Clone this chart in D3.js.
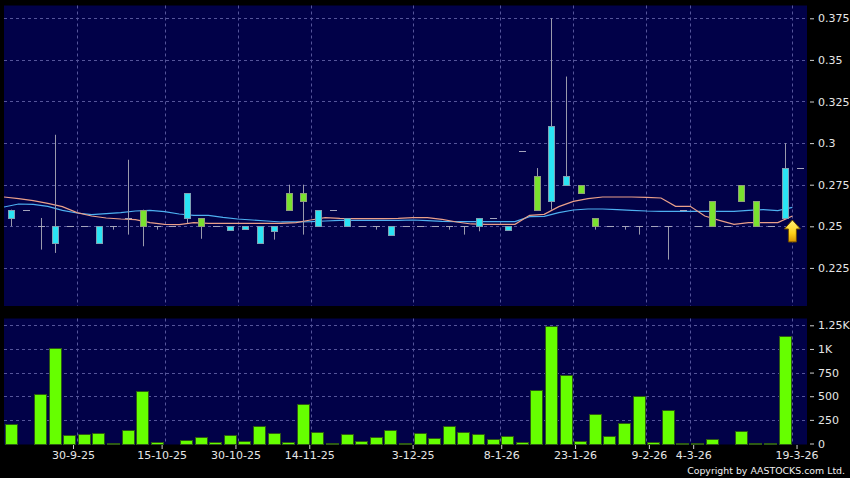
<!DOCTYPE html>
<html><head><meta charset="utf-8">
<script src="https://cdn.jsdelivr.net/npm/d3@7"></script>
<style>
html,body{margin:0;padding:0;background:#000;}
svg{display:block;}
text{font-family:"DejaVu Sans",Verdana,sans-serif;}
</style></head>
<body>
<svg id="c" width="850" height="478"></svg>
<script>
// ---- data (55 slots) ----
const opens  = [0.26,0.26,0.25,0.25,0.25,0.25,0.25,0.25,0.255,0.25, 0.25,0.25,0.27,0.25,0.25,0.25,0.25,0.25,0.25,0.26, 0.265,0.26,0.26,0.255,0.25,0.25,0.25,0.25,0.25,0.25, 0.25,0.25,0.255,0.255,0.25,0.295,0.26,0.31,0.28,0.27, 0.25,0.25,0.25,0.25,0.25,0.25,0.26,0.25,0.25,0.25, 0.265,0.25,0.25,0.285,0.285];
const highs  = [0.26,0.26,0.255,0.305,0.25,0.25,0.25,0.25,0.29,0.26, 0.25,0.25,0.27,0.255,0.25,0.25,0.25,0.25,0.25,0.275, 0.275,0.26,0.26,0.255,0.25,0.25,0.25,0.25,0.25,0.25, 0.25,0.25,0.255,0.255,0.25,0.295,0.285,0.375,0.34,0.275, 0.255,0.25,0.25,0.25,0.25,0.25,0.26,0.25,0.265,0.25, 0.275,0.265,0.25,0.30,0.285];
const lows   = [0.25,0.26,0.236,0.234,0.25,0.25,0.24,0.248,0.245,0.238, 0.248,0.25,0.252,0.2425,0.25,0.248,0.2485,0.24,0.242,0.26, 0.245,0.25,0.26,0.25,0.25,0.248,0.245,0.25,0.25,0.25, 0.248,0.245,0.247,0.255,0.248,0.295,0.26,0.26,0.275,0.27, 0.248,0.25,0.248,0.245,0.25,0.23,0.26,0.25,0.25,0.25, 0.265,0.25,0.25,0.255,0.285];
const closes = [0.255,0.26,0.25,0.24,0.25,0.25,0.24,0.25,0.255,0.26, 0.25,0.25,0.255,0.255,0.25,0.248,0.2485,0.24,0.247,0.27, 0.27,0.25,0.26,0.25,0.25,0.25,0.245,0.25,0.25,0.25, 0.25,0.25,0.25,0.255,0.248,0.295,0.28,0.265,0.275,0.275, 0.255,0.25,0.25,0.25,0.25,0.25,0.26,0.25,0.265,0.25, 0.275,0.265,0.25,0.255,0.285];
const volumes = [211,0,525,1015,94,97,115,10,139,555, 15,0,38,66,20,87,31,183,107,12, 423,125,3,97,27,66,146,5,107,55, 187,125,104,45,76,17,566,1240,722,24, 308,76,215,503,17,354,2,8,52,0, 128,5,10,1135,0];
// moving averages at slot boundaries (points k=0..54)
const maOrange = [0.2676,0.2666,0.2654,0.2638,0.2618,0.2582,0.2562,0.255,0.2544,0.254, 0.2522,0.2512,0.251,0.2522,0.2518,0.2518,0.2518,0.2518,0.2518,0.2518, 0.2522,0.2538,0.2552,0.2548,0.2546,0.2546,0.2546,0.2548,0.2552,0.2552, 0.2542,0.2526,0.2514,0.2512,0.2512,0.2512,0.2566,0.2572,0.2618,0.265, 0.2666,0.2676,0.2676,0.2676,0.2674,0.267,0.262,0.262,0.2562,0.2536, 0.2512,0.2522,0.2522,0.2522,0.2562];
const maBlue = [0.2616,0.2634,0.2632,0.262,0.2596,0.258,0.257,0.2576,0.2582,0.2592, 0.2596,0.2588,0.2574,0.2566,0.2566,0.2554,0.2544,0.2538,0.2532,0.2526, 0.2526,0.2528,0.2532,0.2536,0.2536,0.2536,0.2536,0.2536,0.2538,0.2534, 0.253,0.2528,0.2528,0.2528,0.2528,0.2528,0.2558,0.256,0.2582,0.2598, 0.2604,0.2604,0.26,0.2596,0.2592,0.259,0.259,0.259,0.259,0.259, 0.259,0.2596,0.26,0.2594,0.2614];
const dateLabels = ["30-9-25","15-10-25","30-10-25","14-11-25","3-12-25","8-1-26","23-1-26","9-2-26","4-3-26","19-3-26"];
const dateBoundaries = [5,11,16,21,28,34,39,44,47,54];
const priceTicks = [0.225,0.25,0.275,0.3,0.325,0.35,0.375];
const priceTickLabels = ["0.225","0.25","0.275","0.3","0.325","0.35","0.375"];
const volTicks = [0,250,500,750,1000,1250];
const volTickLabels = ["0","250","500","750","1K","1.25K"];

// ---- layout ----
const svg = d3.select("#c");
const N = opens.length;
const x = d3.scaleLinear().domain([-0.5, N-0.5]).range([4, 807]);
const xt = d3.scaleLinear().domain([-0.5, N-0.5]).range([-0.8, 811.3]);
const y = d3.scaleLinear().domain([0.225, 0.375]).range([267.9, 18.3]);
const yv = d3.scaleLinear().domain([0, 1250]).range([443.5, 325.3]);
const P = {top:5.5, bottom:306};
const V = {top:318.5, bottom:444.5};
const navy = "#010148";
const gridC = "#55559a";

svg.append("rect").attr("width",850).attr("height",478).attr("fill","#000");
svg.append("rect").attr("x",4).attr("y",P.top).attr("width",803).attr("height",P.bottom-P.top).attr("fill",navy);
svg.append("rect").attr("x",4).attr("y",V.top).attr("width",803).attr("height",V.bottom-V.top).attr("fill",navy);

// grids
const g = svg.append("g").attr("stroke",gridC).attr("stroke-width",1).attr("stroke-dasharray","3,3");
priceTicks.forEach(v=>{ const yy=Math.round(y(v))+0.5; if(yy>P.top&&yy<P.bottom) g.append("line").attr("x1",4).attr("x2",807).attr("y1",yy).attr("y2",yy); });
volTicks.slice(1).forEach(v=>{ const yy=Math.round(yv(v))+0.5; g.append("line").attr("x1",4).attr("x2",807).attr("y1",yy).attr("y2",yy); });
dateBoundaries.forEach(k=>{ const xx=Math.round(x(k-0.5))+0.5;
  g.append("line").attr("x1",xx).attr("x2",xx).attr("y1",P.top).attr("y2",P.bottom);
  g.append("line").attr("x1",xx).attr("x2",xx).attr("y1",V.top).attr("y2",V.bottom);
});

// volume bars
const vg = svg.append("g");
volumes.forEach((v,i)=>{ if(v<=0) return;
  const cx = x(i), top = yv(v);
  vg.append("rect").attr("x",Math.round(cx-6.5)+0.5).attr("y",Math.round(top)+0.5)
    .attr("width",12).attr("height",Math.max(0.5,Math.round(yv(0))-Math.round(top)))
    .attr("fill","#66ff00").attr("stroke","#2d5a14").attr("stroke-width",1);
});

// MA lines
const line = d3.line().x((d,k)=>x(k-0.5)).y(d=>y(d));
svg.append("path").attr("d",line(maBlue)).attr("fill","none").attr("stroke","#4eb0f0").attr("stroke-width",1.2);
svg.append("path").attr("d",line(maOrange)).attr("fill","none").attr("stroke","#eaa08a").attr("stroke-width",1.2);

// candles
const cg = svg.append("g");
for(let i=0;i<N;i++){
  const cx = Math.round(x(i))+0.5;
  const o=opens[i], c=closes[i], h=highs[i], l=lows[i];
  if(h>Math.max(o,c)+1e-9 || l<Math.min(o,c)-1e-9)
    cg.append("line").attr("x1",cx).attr("x2",cx).attr("y1",y(h)).attr("y2",y(l)).attr("stroke","#9a9aac").attr("stroke-width",1);
  if(Math.abs(o-c)<1e-9){
    const yy=Math.round(y(o))+0.5;
    cg.append("line").attr("x1",cx-3.5).attr("x2",cx+3.5).attr("y1",yy).attr("y2",yy).attr("stroke","#a4a4bc").attr("stroke-width",1);
  } else {
    const up = c>o;
    const t = Math.round(y(Math.max(o,c)))+0.5, b = Math.round(y(Math.min(o,c)))+0.5;
    cg.append("rect").attr("x",cx-3).attr("y",t).attr("width",6).attr("height",Math.max(1,b-t))
      .attr("fill",up?"#7ae22e":"#2ae4f4").attr("stroke",up?"#8fa07a":"#7ea2b4").attr("stroke-width",1);
  }
}

// arrow marker at last close
const defs = svg.append("defs");
const gr = defs.append("linearGradient").attr("id","ag").attr("x1",0).attr("y1",0).attr("x2",0).attr("y2",1);
gr.append("stop").attr("offset","0%").attr("stop-color","#fff27a");
gr.append("stop").attr("offset","60%").attr("stop-color","#ffd21a");
gr.append("stop").attr("offset","100%").attr("stop-color","#d99400");
const ax = x(N-1.5), ay = y(closes[N-2])+2;
svg.append("path").attr("transform",`translate(${ax},${ay})`)
  .attr("d","M0,0 L8,9 L4,9 L4,22 L-4,22 L-4,9 L-8,9 Z")
  .attr("fill","url(#ag)").attr("stroke","#6b4a00").attr("stroke-width",1);

// axes
function styleAxis(sel){
  sel.select(".domain").remove();
  sel.selectAll(".tick line").attr("stroke","#cfcfcf");
  sel.selectAll(".tick text").attr("fill","#e6e6e6").style("font-size","11px").style("font-family","DejaVu Sans, Verdana, sans-serif");
}
const yAxis = d3.axisRight(y).tickValues(priceTicks).tickFormat((d,i)=>priceTickLabels[i]).tickSize(4).tickPadding(4);
svg.append("g").attr("transform","translate(810,0)").call(yAxis).call(styleAxis);
const vAxis = d3.axisRight(yv).tickValues(volTicks).tickFormat((d,i)=>volTickLabels[i]).tickSize(4).tickPadding(4);
svg.append("g").attr("transform","translate(810,0)").call(vAxis).call(styleAxis);
const xAxis = d3.axisBottom(xt).tickValues(dateBoundaries.map(k=>k-0.5)).tickFormat((d,i)=>dateLabels[i]).tickSize(4).tickPadding(2);
svg.append("g").attr("transform",`translate(0,${V.bottom+0.5})`).call(xAxis).call(styleAxis);

svg.append("text").attr("x",845).attr("y",473.5).attr("text-anchor","end")
  .attr("fill","#f0f0f0").style("font-size","9.4px").text("Copyright by AASTOCKS.com Ltd.");
</script>
</body></html>
